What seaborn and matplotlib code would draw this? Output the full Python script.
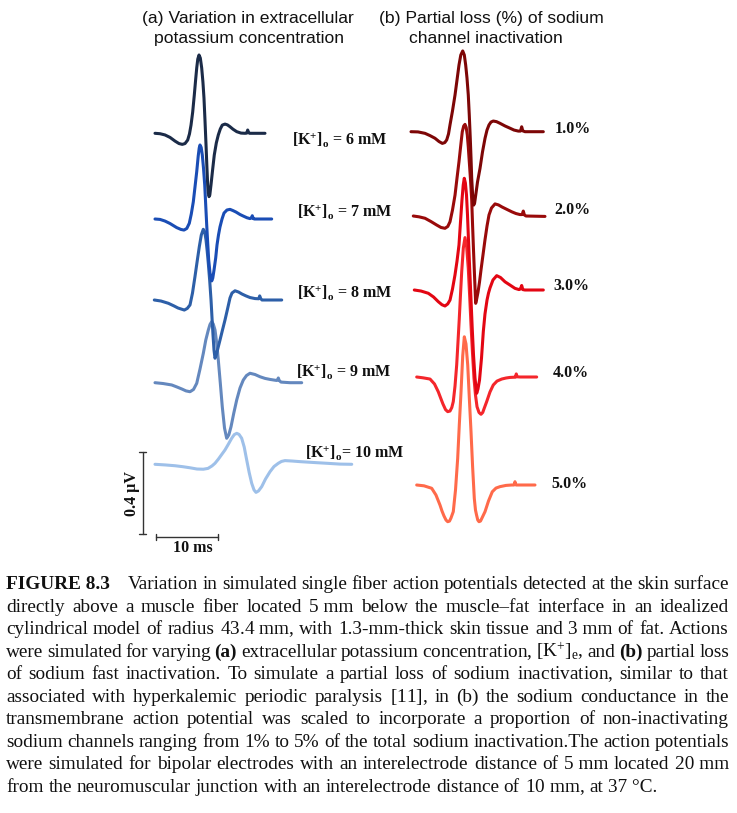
import matplotlib
matplotlib.use("Agg")
import matplotlib.pyplot as plt
import seaborn as sns
import numpy as np

# ---------------- data: time (ms from trace start), potential (µV vs baseline) ----------------
k_conc = ["6", "7", "8", "9", "10"]
na_loss = ["1.0%", "2.0%", "3.0%", "4.0%", "5.0%"]

k6_t = [0, 0.81, 1.61, 2.42, 3.23, 3.87, 4.40, 4.84, 5.27, 5.56, 5.81, 6.08, 6.34, 6.55, 6.73, 6.90, 7.10, 7.31, 7.53, 7.73, 7.90, 8.06, 8.23, 8.37, 8.50, 8.60, 8.71, 8.84, 9.03, 9.27, 9.56, 9.89, 10.21, 10.53, 10.85, 11.29, 11.69, 12.10, 12.58, 13.18, 13.87, 14.52, 14.81, 14.95, 15.08, 15.24, 16.45, 17.74]
k6_v = [0, -0.002, -0.008, -0.020, -0.038, -0.050, -0.054, -0.050, -0.033, -0.003, 0.040, 0.104, 0.187, 0.260, 0.319, 0.362, 0.382, 0.367, 0.319, 0.250, 0.172, 0.065, -0.057, -0.164, -0.252, -0.291, -0.309, -0.301, -0.252, -0.184, -0.106, -0.047, -0.008, 0.021, 0.040, 0.045, 0.041, 0.032, 0.020, 0.008, 0.001, 0, 0.001, 0.016, 0.004, 0, 0, 0]
k7_t = [0, 0.81, 1.61, 2.42, 3.50, 4.19, 4.68, 5.13, 5.53, 5.85, 6.18, 6.45, 6.73, 6.97, 7.13, 7.26, 7.45, 7.63, 7.82, 8.02, 8.18, 8.34, 8.50, 8.66, 8.87, 9.15, 9.32, 9.52, 9.79, 10.00, 10.24, 10.48, 10.81, 11.13, 11.61, 12.10, 12.58, 13.06, 13.71, 14.19, 14.84, 15.32, 15.56, 15.69, 15.85, 16.05, 17.26, 18.82]
k7_v = [0, -0.002, -0.010, -0.022, -0.042, -0.051, -0.054, -0.046, -0.021, 0.024, 0.084, 0.156, 0.231, 0.307, 0.346, 0.361, 0.349, 0.312, 0.249, 0.166, 0.068, -0.029, -0.117, -0.200, -0.263, -0.302, -0.288, -0.249, -0.190, -0.127, -0.078, -0.039, 0, 0.029, 0.044, 0.047, 0.041, 0.034, 0.022, 0.015, 0.006, 0.002, 0.005, 0.016, 0.002, 0, 0, 0]
k8_t = [0, 1.08, 2.26, 3.18, 3.82, 4.84, 5.32, 5.76, 6.16, 6.56, 6.92, 7.26, 7.58, 7.90, 8.13, 8.34, 8.53, 8.71, 8.94, 9.15, 9.31, 9.47, 9.63, 9.79, 9.95, 10.19, 10.60, 11.00, 11.40, 11.81, 12.21, 12.53, 13.02, 13.58, 14.15, 14.79, 15.44, 16.24, 16.85, 17.00, 17.16, 17.37, 20.55]
k8_v = [0, -0.005, -0.016, -0.029, -0.039, -0.049, -0.041, -0.024, 0.034, 0.114, 0.190, 0.260, 0.317, 0.345, 0.333, 0.293, 0.239, 0.179, 0.093, 0, -0.088, -0.171, -0.244, -0.284, -0.273, -0.244, -0.195, -0.146, -0.098, -0.044, 0.010, 0.034, 0.045, 0.039, 0.029, 0.020, 0.012, 0.007, 0.006, 0.020, 0.007, 0, 0]
k9_t = [0, 1.29, 2.69, 3.55, 4.35, 5.00, 5.65, 6.21, 6.73, 7.26, 7.79, 8.19, 8.60, 8.87, 9.15, 9.40, 9.68, 9.95, 10.21, 10.53, 10.85, 11.21, 11.56, 11.90, 12.26, 12.71, 13.18, 13.71, 14.24, 14.76, 15.32, 16.13, 16.94, 17.74, 18.55, 19.60, 19.76, 19.89, 20.03, 20.32, 21.77, 23.66]
k9_v = [0, -0.004, -0.011, -0.021, -0.031, -0.040, -0.044, -0.033, -0.003, 0.067, 0.143, 0.208, 0.257, 0.284, 0.298, 0.286, 0.257, 0.194, 0.111, -0.001, -0.117, -0.221, -0.271, -0.255, -0.215, -0.148, -0.084, -0.026, 0.013, 0.035, 0.046, 0.040, 0.029, 0.021, 0.016, 0.011, 0.012, 0.023, 0.011, 0.003, 0, 0]
k10_t = [0, 1.61, 3.23, 4.56, 5.65, 6.77, 7.79, 8.55, 9.19, 9.68, 10.24, 10.81, 11.29, 11.85, 12.37, 12.79, 13.18, 13.55, 13.98, 14.39, 14.79, 15.19, 15.60, 15.97, 16.29, 16.69, 17.21, 17.82, 18.55, 19.19, 19.89, 20.40, 20.97, 22.10, 23.39, 25.48, 27.69, 29.84, 31.73]
k10_v = [0, -0.003, -0.007, -0.012, -0.017, -0.023, -0.024, -0.020, -0.008, 0.005, 0.026, 0.050, 0.070, 0.099, 0.127, 0.145, 0.151, 0.146, 0.127, 0.084, 0.021, -0.040, -0.093, -0.125, -0.137, -0.130, -0.109, -0.072, -0.036, -0.011, 0.005, 0.014, 0.018, 0.016, 0.013, 0.009, 0.005, 0.001, 0]

na1_t = [0, 1.13, 2.26, 3.06, 3.87, 4.52, 5.05, 5.45, 5.76, 6.05, 6.29, 6.69, 7.10, 7.42, 7.74, 8.03, 8.34, 8.60, 8.82, 9.03, 9.24, 9.40, 9.56, 9.68, 9.79, 9.94, 10.11, 10.26, 10.44, 10.73, 11.13, 11.53, 11.94, 12.26, 12.58, 12.90, 13.27, 13.79, 14.35, 15.16, 15.97, 16.61, 17.31, 17.66, 17.85, 18.03, 18.39, 19.68, 21.34]
na1_v = [0, -0.001, -0.008, -0.019, -0.032, -0.048, -0.057, -0.053, -0.040, -0.011, 0.033, 0.101, 0.179, 0.252, 0.325, 0.374, 0.394, 0.374, 0.325, 0.262, 0.179, 0.081, -0.032, -0.128, -0.227, -0.309, -0.358, -0.348, -0.309, -0.245, -0.179, -0.099, -0.032, 0.008, 0.033, 0.047, 0.052, 0.049, 0.041, 0.028, 0.017, 0.008, 0.003, 0.003, 0.024, 0.004, 0, 0, 0]
na2_t = [0, 0.92, 1.89, 2.85, 3.77, 4.47, 5.11, 5.56, 5.92, 6.32, 6.73, 7.05, 7.37, 7.66, 7.90, 8.13, 8.34, 8.53, 8.71, 8.87, 9.03, 9.23, 9.42, 9.56, 9.71, 9.89, 10.06, 10.19, 10.44, 10.68, 10.92, 11.24, 11.56, 11.89, 12.21, 12.61, 13.18, 13.74, 14.31, 15.11, 15.92, 16.56, 17.21, 17.56, 17.74, 17.92, 18.18, 19.63, 21.24]
na2_v = [0, -0.004, -0.011, -0.027, -0.044, -0.056, -0.060, -0.051, -0.028, 0.029, 0.102, 0.185, 0.265, 0.346, 0.411, 0.439, 0.447, 0.432, 0.395, 0.337, 0.265, 0.176, 0.078, -0.044, -0.166, -0.302, -0.426, -0.410, -0.371, -0.322, -0.263, -0.190, -0.117, -0.049, 0.005, 0.039, 0.059, 0.054, 0.044, 0.032, 0.020, 0.012, 0.007, 0.007, 0.024, 0.005, 0, -0.001, -0.002]
na3_t = [0, 1.08, 2.26, 3.10, 3.87, 4.47, 4.95, 5.39, 5.76, 6.16, 6.56, 6.89, 7.21, 7.45, 7.69, 7.89, 8.06, 8.24, 8.42, 8.58, 8.74, 8.94, 9.15, 9.34, 9.55, 9.79, 10.06, 10.27, 10.52, 10.84, 11.13, 11.40, 11.73, 11.97, 12.21, 12.69, 13.29, 13.90, 14.63, 15.44, 16.24, 16.89, 17.13, 17.32, 17.50, 17.85, 19.15, 20.81]
na3_v = [0, -0.005, -0.016, -0.034, -0.057, -0.072, -0.078, -0.068, -0.049, 0.005, 0.073, 0.141, 0.220, 0.332, 0.439, 0.512, 0.545, 0.522, 0.463, 0.366, 0.244, 0.098, -0.049, -0.185, -0.317, -0.429, -0.504, -0.483, -0.439, -0.332, -0.203, -0.117, -0.049, -0.015, 0.010, 0.049, 0.070, 0.061, 0.040, 0.024, 0.008, 0.002, 0.005, 0.022, 0.002, 0, 0, 0]
na4_t = [0, 1.02, 2.15, 2.87, 3.48, 3.92, 4.24, 4.65, 5.00, 5.37, 5.66, 5.90, 6.18, 6.45, 6.66, 6.87, 7.06, 7.26, 7.52, 7.79, 8.06, 8.32, 8.55, 8.76, 9.00, 9.24, 9.48, 9.73, 10.05, 10.37, 10.65, 10.85, 11.29, 11.82, 12.35, 12.95, 13.71, 14.40, 15.05, 15.77, 15.94, 16.06, 16.21, 16.66, 17.95, 19.35]
na4_v = [0, -0.004, -0.010, -0.034, -0.072, -0.107, -0.132, -0.159, -0.169, -0.166, -0.149, -0.120, -0.044, 0.059, 0.171, 0.286, 0.400, 0.514, 0.629, 0.680, 0.634, 0.530, 0.390, 0.254, 0.117, -0.006, -0.088, -0.145, -0.173, -0.182, -0.173, -0.156, -0.120, -0.073, -0.039, -0.020, -0.010, -0.005, -0.002, -0.001, -0.001, 0.015, 0.001, 0, 0, 0]
na5_t = [0, 1.18, 2.42, 3.11, 3.76, 4.08, 4.40, 4.73, 5.00, 5.29, 5.53, 5.90, 6.26, 6.61, 6.87, 7.15, 7.42, 7.68, 7.95, 8.23, 8.48, 8.76, 9.02, 9.29, 9.48, 9.65, 9.85, 10.05, 10.29, 10.53, 11.02, 11.58, 12.19, 12.79, 13.44, 14.40, 15.32, 15.69, 15.85, 16.02, 17.47, 19.08]
na5_v = [0, -0.004, -0.016, -0.049, -0.098, -0.127, -0.151, -0.171, -0.179, -0.176, -0.161, -0.130, -0.024, 0.130, 0.293, 0.455, 0.629, 0.723, 0.688, 0.585, 0.429, 0.260, 0.088, -0.065, -0.122, -0.146, -0.171, -0.179, -0.176, -0.161, -0.130, -0.078, -0.033, -0.015, -0.008, -0.002, 0, 0, 0.016, 0, 0, 0]

scale_ms = 10
scale_uv = 0.4

title_a = ["(a) Variation in extracellular", "potassium concentration"]
title_b = ["(b) Partial loss (%) of sodium", "channel inactivation"]

caption_lines = [
    "**FIGURE\u00a08.3** <gap> Variation in simulated single fiber action potentials detected at the skin surface",
    "directly above a muscle fiber located 5\u00a0mm below the muscle\u2013fat interface in an idealized",
    "cylindrical model of radius 43.4\u00a0mm, with 1.3-mm-thick skin tissue and 3\u00a0mm of fat. Actions",
    "were simulated for varying **(a)** extracellular potassium concentration, [K$^{+}$]$_{e}$, and **(b)** partial loss",
    "of sodium fast inactivation. To simulate a partial loss of sodium inactivation, similar to that",
    "associated with hyperkalemic periodic paralysis [11], in (b) the sodium conductance in the",
    "transmembrane action potential was scaled to incorporate a proportion of non-inactivating",
    "sodium channels ranging from 1% to 5% of the total sodium inactivation.The action potentials",
    "were simulated for bipolar electrodes with an interelectrode distance of 5\u00a0mm located 20\u00a0mm",
    "from the neuromuscular junction with an interelectrode distance of 10\u00a0mm, at 37\u00a0\u00b0C.",
]

# ---------------- layout / style ----------------
W, H = 737, 813
PX_PER_MS = 6.2
PX_PER_UV = 205.0

k_colors = ["#1b2b48", "#1a4db5", "#2d5fa8", "#6488be", "#9ec0e9"]
na_colors = ["#7d0606", "#990a0a", "#e30613", "#f4262b", "#ff6a4a"]
k_x0 = [155, 155, 154.3, 155, 155]
k_base = [133.3, 219, 300, 382.7, 464.3]
na_x0 = [411, 413.3, 414.3, 416.7, 416.7]
na_base = [131.7, 216, 290, 377, 485]
k_label_pos = [(291.7, 139.3), (296.7, 211.7), (296.7, 292.7), (296, 371.7), (305, 452.3)]
na_label_pos = [(555, 129.3), (554, 210), (553.3, 286), (552.7, 372.7), (551.7, 484.3)]

sns.set_theme(style="white")
plt.rcParams.update({
    "font.family": "Liberation Serif",
    "mathtext.fontset": "custom",
    "mathtext.rm": "Liberation Serif",
    "mathtext.it": "Liberation Serif:italic",
    "mathtext.bf": "Liberation Serif:bold",
    "mathtext.default": "regular",
})

fig = plt.figure(figsize=(W / 100, H / 100), dpi=100)
fig.patch.set_facecolor("white")
ax = fig.add_axes([0, 0, 1, 1])
ax.set_facecolor("white")

k_traces = [(k6_t, k6_v), (k7_t, k7_v), (k8_t, k8_v), (k9_t, k9_v), (k10_t, k10_v)]
na_traces = [(na1_t, na1_v), (na2_t, na2_v), (na3_t, na3_v), (na4_t, na4_v), (na5_t, na5_v)]

def draw_trace(t, v, x0px, basepx, color):
    x = np.asarray(t) + x0px / PX_PER_MS
    y = np.asarray(v) - basepx / PX_PER_UV
    sns.lineplot(x=x, y=y, color=color, lw=2.2, sort=False, estimator=None, ax=ax,
                 solid_joinstyle="round", solid_capstyle="round")

for i in reversed(range(5)):
    draw_trace(*k_traces[i], k_x0[i], k_base[i], k_colors[i])
for i in reversed(range(5)):
    draw_trace(*na_traces[i], na_x0[i], na_base[i], na_colors[i])

# scale bars
sb_col = "#333333"
vx = 142.5 / PX_PER_MS
vy0 = -534.3 / PX_PER_UV
ax.plot([vx, vx], [vy0, vy0 + scale_uv], color=sb_col, lw=1.0)
cap = 3.5 / PX_PER_MS
ax.plot([vx - cap, vx + cap], [vy0, vy0], color=sb_col, lw=1.0)
ax.plot([vx - cap, vx + cap], [vy0 + scale_uv, vy0 + scale_uv], color=sb_col, lw=1.0)
hx0 = 156 / PX_PER_MS
hy = -537 / PX_PER_UV
ax.plot([hx0, hx0 + scale_ms], [hy, hy], color=sb_col, lw=1.0)
vcap = 3 / PX_PER_UV
ax.plot([hx0, hx0], [hy - vcap, hy + vcap], color=sb_col, lw=1.0)
ax.plot([hx0 + scale_ms, hx0 + scale_ms], [hy - vcap, hy + vcap], color=sb_col, lw=1.0)

ax.set_xlim(0, W / PX_PER_MS)
ax.set_ylim(-H / PX_PER_UV, 0)
ax.axis("off")

def ftext(x, y, s, **kw):
    return fig.text(x / W, 1 - y / H, s, **kw)

# titles
tkw = dict(family="Liberation Sans", fontsize=12.6, color="#111111", ha="center", va="baseline")
ftext(248, 23, title_a[0], **tkw)
ftext(249, 43, title_a[1], **tkw)
ftext(491, 23, title_b[0], **tkw)
ftext(486, 43, title_b[1], **tkw)

lkw = dict(fontsize=11.5, fontweight="bold", color="#111111", va="center", ha="left")
for c, (x, y) in zip(k_conc, k_label_pos):
    sp = " = " if c != "10" else "= "
    ftext(x, y, "[K$^{+}$]$_{o}$" + sp + c + " mM", **lkw)
for s, (x, y) in zip(na_loss, na_label_pos):
    ftext(x, y, s, **lkw)

ftext(131.5, 494, "%g \u00b5V" % scale_uv, fontsize=11.5, fontweight="bold", color="#111111",
      rotation=90, ha="center", va="center")
ftext(193, 548, "%g ms" % scale_ms, fontsize=11.5, fontweight="bold", color="#111111",
      ha="center", va="center")

# caption (justified)
renderer = fig.canvas.get_renderer()
LEFT, RIGHT = 6, 729
BASE0, LEAD = 589, 22.55
size0 = 13.0
lines_tok = []
for line in caption_lines:
    toks = []
    for w in line.split(" "):
        if w == "<gap>":
            toks.append("GAP")
            continue
        bold = w.startswith("**") and w.endswith("**")
        s = w[2:-2] if bold else w
        if s.endswith(",") and "$" not in s:
            s = s[:-1] + "$,$"   # keeps the trailing comma on the baseline
        t = fig.text(0, 0, s, fontsize=size0, fontweight="bold" if bold else "normal",
                     color="#111111", va="baseline", ha="left")
        toks.append(t)
    lines_tok.append(toks)

def width(t):
    return t.get_window_extent(renderer).width

def space_w():
    a = fig.text(0, 0, "x\u00a0x", fontsize=size0)
    b = fig.text(0, 0, "xx", fontsize=size0)
    d = width(a) - width(b)
    a.remove(); b.remove()
    return d

last = [t for t in lines_tok[-1] if t != "GAP"]
nat = sum(width(t) for t in last) + (len(last) - 1) * space_w()
size = size0 * 651.0 / nat
for toks in lines_tok:
    for t in toks:
        if t != "GAP":
            t.set_fontsize(size)
size0 = size
sp = space_w()

for i, toks in enumerate(lines_tok):
    y = BASE0 + i * LEAD
    words = [t for t in toks if t != "GAP"]
    extra = 14.0 if "GAP" in toks else 0.0
    ws = [width(t) for t in words]
    if i < len(lines_tok) - 1:
        gap = (RIGHT - LEFT - sum(ws) - extra) / (len(words) - 1)
    else:
        gap = sp
    x = LEFT
    for t in toks:
        if t == "GAP":
            x += extra
            continue
        t.set_position((x / W, 1 - y / H))
        x += width(t) + gap

fig.savefig("out.png", dpi=100, facecolor="white")
